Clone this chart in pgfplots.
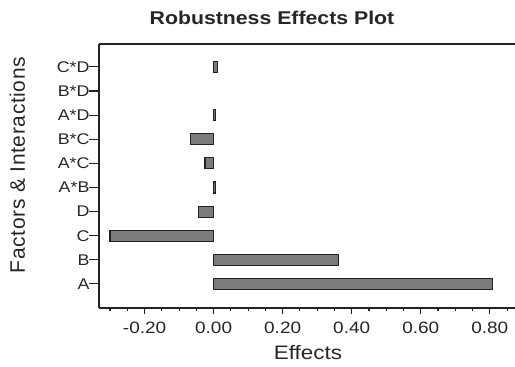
\documentclass[border=0pt]{standalone}
\usepackage{pgfplots}
\pgfplotsset{compat=1.18}
\usepackage{fontspec}
\setmainfont{Liberation Sans}[FakeStretch=1.15]
\newfontfamily\labelfont{Liberation Sans}[LetterSpace=3]
\definecolor{bargray}{HTML}{7B7B7B}
\definecolor{edge}{HTML}{222222}
\definecolor{txt}{HTML}{262626}
\begin{document}
\begin{tikzpicture}[x=1pt,y=1pt]
\begin{axis}[
  at={(0,0)}, anchor=south west,
  scale only axis, width=416pt, height=264pt,
  xbar, bar width=11pt, bar shift=0pt,
  xmin=-0.332, xmax=0.873,
  ymin=0, ymax=10.95,
  axis x line*=box, axis y line*=left,
  xtick pos=bottom,
  axis line style={edge, line width=1.6pt},
  xtick={-0.2,0,0.2,0.4,0.6,0.8},
  minor xtick={-0.3,-0.25,-0.15,-0.1,-0.05,0.05,0.1,0.15,0.25,0.3,0.35,0.45,0.5,0.55,0.65,0.7,0.75,0.85},
  tick align=outside,
  major tick length=6pt, minor tick length=3pt,
  tick style={edge, line width=1.1pt},
  ytick={1,2,3,4,5,6,7,8,9,10},
  yticklabels={A,B,C,D,A*B,A*C,B*C,A*D,B*D,C*D},
  ytick style={/pgfplots/major tick length=10pt},
  /pgf/number format/assume math mode=true,
  /pgf/number format/.cd, fixed, fixed zerofill, precision=2, /pgfplots/.cd,
  xticklabel style={font=\fontsize{16.5}{18}\selectfont, text=txt, yshift=-4pt},
  yticklabel style={font=\fontsize{15.5}{18}\selectfont, text=txt},
  clip=false,
]
\addplot[fill=bargray, draw=edge, line width=1.1pt] coordinates {
  (0.809,1) (0.363,2) (-0.300,3) (-0.045,4) (0.006,5) (-0.025,6) (-0.066,7) (0.006,8) (0.012,10)
};
\end{axis}
\node[anchor=base, text=txt, font=\bfseries\fontsize{18.5}{22}\selectfont] at (173,283) {Robustness Effects Plot};
\node[anchor=base, text=txt, font=\fontsize{19.5}{22}\selectfont] at (209,-52) {Effects};
\node[anchor=base, rotate=90, text=txt, font=\labelfont\fontsize{21}{24}\selectfont] at (-74,143) {Factors \& Interactions};
\pgfresetboundingbox
\path (-99,-59) rectangle (416,308);
\end{tikzpicture}
\end{document}
